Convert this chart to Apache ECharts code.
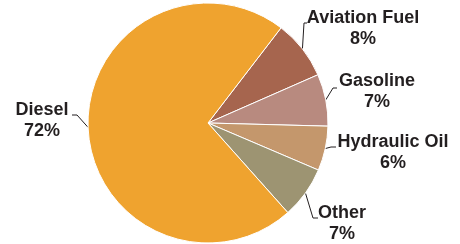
<!DOCTYPE html>
<html>
<head>
<meta charset="utf-8">
<script src="https://cdn.jsdelivr.net/npm/echarts@6/dist/echarts.min.js"></script>
<style>
  html, body { margin: 0; padding: 0; background: #fff; }
  #chart { width: 460px; height: 244px; }
</style>
</head>
<body>
<div id="chart"></div>
<script>
const categories = ['Aviation Fuel', 'Gasoline', 'Hydraulic Oil', 'Other', 'Diesel']
const shares = [8, 7, 6, 7, 72]
const colors = ['#A6654E', '#B88A7F', '#C4976C', '#9D9472', '#EFA32F']

// label block centres and label-line bend/end points
const labelPlace = [
  { x: 363, y: 8, bend: [304, 23], end: [307, 23] },
  { x: 377, y: 71, bend: [333, 88], end: [337, 88] },
  { x: 393, y: 132, bend: [331, 147], end: [336, 147] },
  { x: 342, y: 203, bend: [313, 218], end: [318, 218] },
  { x: 42, y: 100, bend: [77, 115], end: [72, 115] },
]

const chart = echarts.init(document.getElementById('chart'))
chart.setOption({
  animation: false,
  series: [
    {
      type: 'pie',
      center: [208, 123],
      radius: 120,
      startAngle: 52.5,
      clockwise: true,
      data: categories.map((name, i) => ({
        name,
        value: shares[i],
        itemStyle: { color: colors[i] },
      })),
      itemStyle: { borderColor: '#fff', borderWidth: 1 },
      label: {
        show: true,
        overflow: 'none',
        formatter: (p) => '{n|' + p.name + '}\n{n|' + p.value + '%}',
        rich: {
          n: {
            fontFamily: 'Liberation Sans, Arial, sans-serif',
            fontWeight: 'bold',
            fontSize: 18,
            lineHeight: 21,
            color: '#231F20',
            align: 'center',
          },
        },
      },
      labelLine: { show: true, lineStyle: { color: '#231F20', width: 1 } },
      labelLayout: (params) => {
        const pl = labelPlace[params.dataIndex]
        const start = params.labelLinePoints ? params.labelLinePoints[0] : pl.bend
        return {
          x: pl.x,
          y: pl.y,
          align: 'center',
          verticalAlign: 'top',
          labelLinePoints: [start, pl.bend, pl.end],
        }
      },
    },
  ],
})
</script>
</body>
</html>
